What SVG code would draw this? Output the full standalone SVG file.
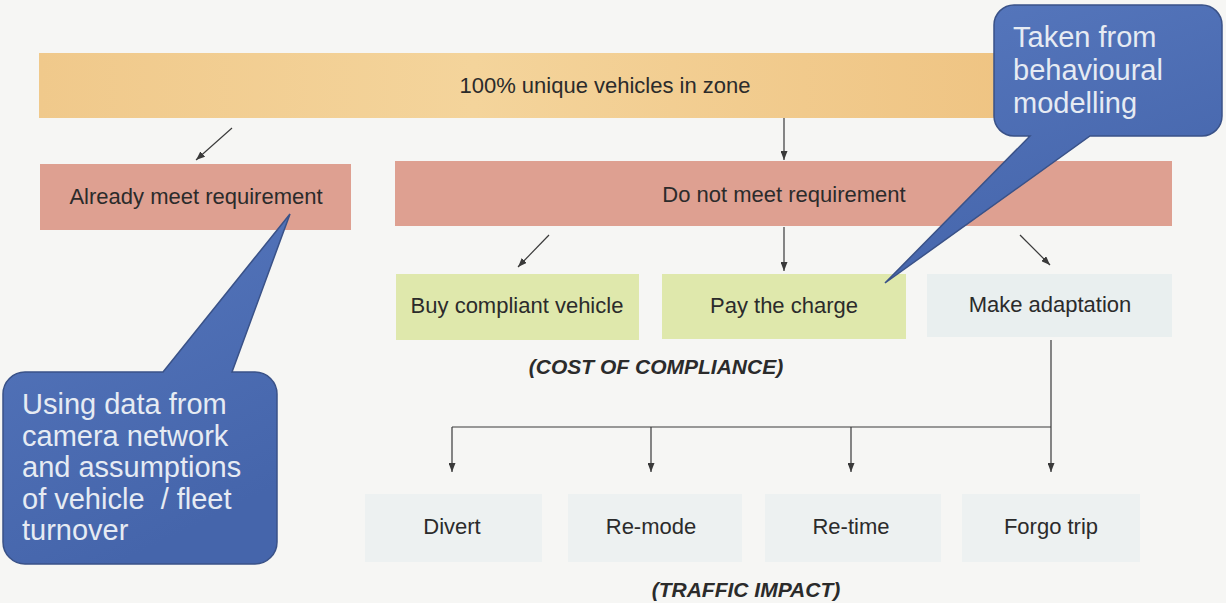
<svg xmlns="http://www.w3.org/2000/svg" width="1226" height="603" viewBox="0 0 1226 603">
<defs>
<marker id="ah" markerWidth="9" markerHeight="7" refX="9" refY="3.5" orient="auto" markerUnits="userSpaceOnUse"><path d="M0,0 L9,3.5 L0,7 Z" fill="#3a3a3a"/></marker>
<linearGradient id="gTop" x1="0" y1="0" x2="1" y2="0"><stop offset="0" stop-color="#f0c98b"/><stop offset="0.45" stop-color="#f4d49b"/><stop offset="1" stop-color="#efc483"/></linearGradient>
<linearGradient id="gBlue" x1="0" y1="0" x2="0.4" y2="1"><stop offset="0" stop-color="#5677bd"/><stop offset="1" stop-color="#4565ab"/></linearGradient>
<style>
.lbl{font-family:"Liberation Sans",Arial,sans-serif;font-size:22px;fill:#2b2b2b;text-anchor:middle}
.cap{font-family:"Liberation Sans",Arial,sans-serif;font-size:21px;font-style:italic;font-weight:bold;fill:#2b2b2b;text-anchor:middle}
.co{font-family:"Liberation Sans",Arial,sans-serif;font-size:29px;fill:#e6ebf3}
.pink{fill:#dea091}
.green{fill:#dfe8ac}
.pale{fill:#e9efef}
.faint{fill:#edf1f1}
.bub{fill:url(#gBlue);stroke:#3a5288;stroke-width:1.5}
.cn{stroke:#3a3a3a;stroke-width:1.2;fill:none}
</style>
</defs>
<rect width="1226" height="603" fill="#f6f6f4"/>

<g id="top">
<rect x="39" y="53" width="965" height="65" fill="url(#gTop)"/>
<text class="lbl" x="605" y="93">100% unique vehicles in zone</text>
</g>
<g id="already">
<rect class="pink" x="40" y="164" width="311" height="66"/>
<text class="lbl" x="196" y="204">Already meet requirement</text>
</g>
<g id="donot">
<rect class="pink" x="395" y="161" width="777" height="65"/>
<text class="lbl" x="784" y="202">Do not meet requirement</text>
</g>
<g id="buy">
<rect class="green" x="396" y="274" width="243" height="66"/>
<text class="lbl" x="517" y="313">Buy compliant vehicle</text>
</g>
<g id="pay">
<rect class="green" x="662" y="274" width="244" height="65"/>
<text class="lbl" x="784" y="313">Pay the charge</text>
</g>
<g id="adapt">
<rect class="pale" x="927" y="274" width="245" height="63"/>
<text class="lbl" x="1050" y="312">Make adaptation</text>
</g>
<g id="cost">
<text class="cap" x="656" y="374">(COST OF COMPLIANCE)</text>
</g>
<g id="divert">
<rect class="faint" x="365" y="494" width="177" height="68"/>
<text class="lbl" x="452" y="534">Divert</text>
</g>
<g id="remode">
<rect class="faint" x="568" y="494" width="174" height="68"/>
<text class="lbl" x="651" y="534">Re-mode</text>
</g>
<g id="retime">
<rect class="faint" x="765" y="494" width="176" height="68"/>
<text class="lbl" x="851" y="534">Re-time</text>
</g>
<g id="forgo">
<rect class="faint" x="962" y="494" width="178" height="68"/>
<text class="lbl" x="1051" y="534">Forgo trip</text>
</g>
<g id="traffic">
<text class="cap" x="746" y="597">(TRAFFIC IMPACT)</text>
</g>

<g id="connectors">
<line class="cn" x1="232" y1="128" x2="196" y2="160" marker-end="url(#ah)"/>
<line class="cn" x1="784" y1="118" x2="784" y2="160" marker-end="url(#ah)"/>
<line class="cn" x1="549" y1="235" x2="518" y2="267" marker-end="url(#ah)"/>
<line class="cn" x1="784" y1="227" x2="784" y2="271" marker-end="url(#ah)"/>
<line class="cn" x1="1020" y1="235" x2="1050" y2="265" marker-end="url(#ah)"/>
<line class="cn" x1="1051" y1="340" x2="1051" y2="472" marker-end="url(#ah)"/>
<line class="cn" x1="452" y1="427" x2="1051" y2="427"/>
<line class="cn" x1="452" y1="427" x2="452" y2="472" marker-end="url(#ah)"/>
<line class="cn" x1="651" y1="427" x2="651" y2="472" marker-end="url(#ah)"/>
<line class="cn" x1="851" y1="427" x2="851" y2="472" marker-end="url(#ah)"/>
</g>

<g id="callout-right">
<path class="bub" d="M1014,5 H1202 A20,20 0 0 1 1222,25 V116 A20,20 0 0 1 1202,136 H1090 L885,283 L1030,136 H1014 A20,20 0 0 1 994,116 V25 A20,20 0 0 1 1014,5 Z"/>
<text class="co" x="1013" y="47">Taken from</text>
<text class="co" x="1013" y="80">behavioural</text>
<text class="co" x="1013" y="113">modelling</text>
</g>

<g id="callout-left">
<path class="bub" d="M25,372 H163 L290,214 L232,372 H255 A22,22 0 0 1 277,394 V542 A22,22 0 0 1 255,564 H25 A22,22 0 0 1 3,542 V394 A22,22 0 0 1 25,372 Z"/>
<text class="co" x="22" y="414">Using data from</text>
<text class="co" x="22" y="446">camera network</text>
<text class="co" x="22" y="477">and assumptions</text>
<text class="co" x="22" y="509" xml:space="preserve">of vehicle  / fleet</text>
<text class="co" x="22" y="540">turnover</text>
</g>
</svg>
